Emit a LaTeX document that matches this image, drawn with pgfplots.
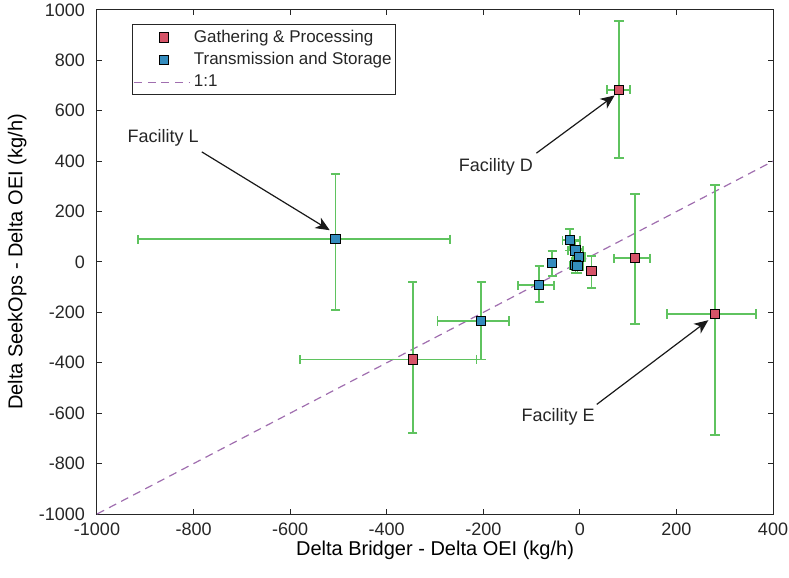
\documentclass[border=0pt]{standalone}
\usepackage{fontspec}
\setmainfont{Liberation Sans}
\usepackage{pgfplots}
\pgfplotsset{compat=1.18}
\usetikzlibrary{arrows.meta}
\definecolor{gp}{RGB}{214,84,104}
\definecolor{ts}{RGB}{52,140,190}
\definecolor{eb}{RGB}{95,195,95}
\definecolor{one}{RGB}{160,110,175}
\definecolor{txt}{RGB}{38,38,38}
\pgfplotsset{
  marklegend/.style={legend image code/.code={\path (0pt,0pt) (28pt,0pt); \draw[##1] plot coordinates {(15pt,0pt)};}},
  linelegend/.style={legend image code/.code={\draw[##1] (0pt,0pt) -- (28pt,0pt);}}
}
\begin{document}
\begin{tikzpicture}
\begin{axis}[
  scale only axis, width=338pt, height=252pt,
  xmin=-1000, xmax=400, ymin=-1000, ymax=1000,
  xtick={-1000,-800,...,400}, ytick={-1000,-800,...,1000},
  tick align=inside, major tick length=2.5pt,
  axis line style={line width=0.5pt, black!85},
  every tick/.style={black!85, line width=0.5pt},
  /pgf/number format/assume math mode=true,
  /pgf/number format/1000 sep={},
  tick label style={font=\fontsize{9}{10}\selectfont, text=txt},
  xticklabel style={yshift=-1pt},
  yticklabel style={xshift=-2.5pt},
  label style={font=\fontsize{9}{10}\selectfont, text=txt},
  xlabel={Delta Bridger - Delta OEI (kg/h)},
  ylabel={Delta SeekOps - Delta OEI (kg/h)},
  every axis x label/.style={at={(axis description cs:0.5,-0.072)}, anchor=center},
  every axis y label/.style={at={(axis description cs:-0.118,0.5)}, rotate=90, anchor=center},
  legend style={at={(axis description cs:0.052,0.972)}, anchor=north west,
    draw=black!85, line width=0.5pt, font=\fontsize{8.5}{9.5}\selectfont, text=txt,
    inner xsep=0.5pt, inner ysep=0.8pt, row sep=0pt,
    nodes={inner xsep=1.5pt, inner ysep=1.8pt}},
  legend cell align=left,
  error bars/error bar style={eb, line width=0.9pt},
  error bars/error mark options={eb, rotate=90, mark size=2.3pt, line width=0.9pt},
]
% 1:1 line (behind)
\addplot[one, line width=0.6pt, dash pattern=on 4pt off 2.8pt, forget plot] coordinates {(-1000,-1000) (400,400)};

% Gathering & Processing
\addplot[only marks, mark=square*, mark size=2.3pt,
  mark options={fill=gp, draw=black, line width=0.5pt}, marklegend,
  error bars/.cd, x dir=both, y dir=both, x explicit, y explicit]
coordinates {
  (81,684) += (23,272) -= (24,271)
  (114,15) += (32,254) -= (44,262)
  (24,-37) += (6,61) -= (6,66)
  (280,-206) += (84,510) -= (99,482)
  (-346,-387) += (132,308) -= (234,290)
};
\addlegendentry{Gathering \& Processing}

% Transmission and Storage
\addplot[only marks, mark=square*, mark size=2.3pt,
  mark options={fill=ts, draw=black, line width=0.5pt}, marklegend,
  error bars/.cd, x dir=both, y dir=both, x explicit, y explicit]
coordinates {
  (-506,90) += (237,258) -= (409,282)
  (-204,-234) += (57,155) -= (91,153)
  (-84,-92) += (30,75) -= (44,67)
  (-57,-4) += (8,48) -= (8,53)
  (-21,86) += (21,46) -= (15,40)
  (-9,46) += (15,35) -= (15,35)
  (-2,20) += (12,30) -= (12,30)
  (-9,-13) += (12,30) -= (12,30)
  (-5,-16) += (12,28) -= (12,28)
};
\addlegendentry{Transmission and Storage}

\addlegendimage{one, line width=0.6pt, dash pattern=on 4pt off 2.8pt, linelegend}
\addlegendentry{1:1}

% annotations
\draw[black!90, line width=0.6pt, -{Stealth[length=7pt, width=6pt, inset=2pt]}] (axis cs:-783,437) -- (axis cs:-518,126);
\node[font=\fontsize{9}{10}\selectfont, text=txt] at (axis cs:-863,491) {Facility L};
\draw[black!90, line width=0.6pt, -{Stealth[length=7pt, width=6pt, inset=2pt]}] (axis cs:-90,432) -- (axis cs:72,661);
\node[font=\fontsize{9}{10}\selectfont, text=txt] at (axis cs:-174,379) {Facility D};
\draw[black!90, line width=0.6pt, -{Stealth[length=7pt, width=6pt, inset=2pt]}] (axis cs:35,-565) -- (axis cs:266,-231);
\node[font=\fontsize{9}{10}\selectfont, text=txt] at (axis cs:-45,-613) {Facility E};

\coordinate (sw) at (rel axis cs:0,0);
\coordinate (ne) at (rel axis cs:1,1);
\end{axis}
\pgfresetboundingbox
\path[use as bounding box] ([shift={(-48.5pt,-31.5pt)}]sw) rectangle ([shift={(8pt,5pt)}]ne);
\end{tikzpicture}
\end{document}
